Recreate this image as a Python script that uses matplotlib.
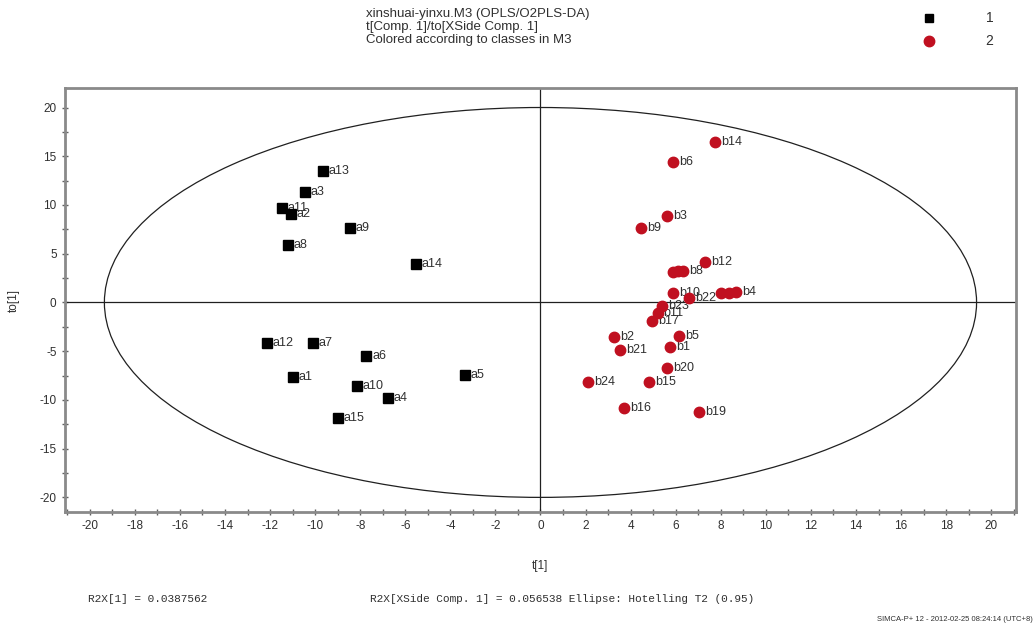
import numpy as np
import matplotlib.pyplot as plt
from matplotlib.patches import Ellipse
from matplotlib.ticker import MultipleLocator

plt.rcParams['font.family'] = ['Liberation Sans', 'DejaVu Sans']
plt.rcParams['axes.unicode_minus'] = False

# class 1 (black squares)
a_names = ['a13', 'a3', 'a11', 'a2', 'a9', 'a8', 'a14', 'a12', 'a7', 'a6',
           'a1', 'a10', 'a4', 'a15', 'a5']
a_t = [-9.67, -10.47, -11.49, -11.09, -8.47, -11.22, -5.54, -12.15, -10.11, -7.72,
       -11.0, -8.16, -6.78, -9.0, -3.37]
a_to = [13.5, 11.3, 9.74, 9.03, 7.59, 5.85, 3.9, -4.2, -4.2, -5.54,
        -7.69, -8.6, -9.85, -11.9, -7.49]

# class 2 (red circles); labels hidden under neighbouring markers are left blank
b_names = ['b14', 'b6', 'b3', 'b9', 'b12', '', '', 'b8', 'b10', 'b22',
           '', '', 'b4', 'b23', 'b11', 'b17', 'b2', 'b5', 'b21', 'b1',
           'b20', 'b24', 'b15', 'b16', 'b19']
b_t = [7.76, 5.9, 5.63, 4.48, 7.32, 5.9, 6.12, 6.34, 5.9, 6.6,
       8.03, 8.38, 8.69, 5.41, 5.2, 4.95, 3.28, 6.16, 3.55, 5.76,
       5.63, 2.13, 4.83, 3.72, 7.05]
b_to = [16.5, 14.46, 8.92, 7.59, 4.2, 3.15, 3.2, 3.25, 0.92, 0.5,
        1.0, 1.0, 1.05, -0.35, -1.1, -1.95, -3.59, -3.49, -4.92, -4.62,
        -6.77, -8.2, -8.2, -10.87, -11.28]

red = '#c01020'
txtc = '#303030'

fig = plt.figure(figsize=(10.36, 6.3), dpi=100)
ax = fig.add_axes([0.0627, 0.1873, 0.918, 0.673])

# Hotelling T2 ellipse and zero lines
ax.add_patch(Ellipse((0, 0), 2 * 19.35, 2 * 20.0, fill=False, ec='#202020', lw=0.9))
ax.axhline(0, color='#202020', lw=0.9)
ax.axvline(0, color='#202020', lw=0.9)

ax.plot(a_t, a_to, 's', color='black', ms=6.5, ls='none', zorder=4)
ax.plot(b_t, b_to, 'o', color=red, ms=7.5, ls='none', zorder=4)
for n, x, y in zip(a_names, a_t, a_to):
    ax.text(x + 0.25, y, n, fontsize=9, color=txtc, va='center', ha='left', zorder=3)
for n, x, y in zip(b_names, b_t, b_to):
    if n:
        ax.text(x + 0.25, y, n, fontsize=9, color=txtc, va='center', ha='left', zorder=3)

ax.set_xlim(-21.1, 21.1)
ax.set_ylim(-21.5, 22.0)
ax.xaxis.set_major_locator(MultipleLocator(2))
ax.xaxis.set_minor_locator(MultipleLocator(1))
ax.yaxis.set_major_locator(MultipleLocator(5))
ax.yaxis.set_minor_locator(MultipleLocator(2.5))
ax.tick_params(which='both', direction='inout', length=5, width=1, color='#606060',
               labelsize=8.5, labelcolor=txtc)
ax.tick_params(top=False, right=False)
for s in ax.spines.values():
    s.set_color('#8a8a8a')
    s.set_linewidth(2)

ax.set_xlabel('t[1]', fontsize=8.5, color=txtc, labelpad=20)
ax.set_ylabel('to[1]', fontsize=8.5, color=txtc, labelpad=14)

# header
fig.text(0.353, 0.988, 'xinshuai-yinxu.M3 (OPLS/O2PLS-DA)\n'
         't[Comp. 1]/to[XSide Comp. 1]\nColored according to classes in M3',
         fontsize=9.5, color=txtc, va='top', ha='left', linespacing=1.15)

# legend
fig.lines.append(plt.Line2D([0.897], [0.971], marker='s', color='black', ms=6,
                            transform=fig.transFigure))
fig.lines.append(plt.Line2D([0.897], [0.935], marker='o', color=red, ms=7.5,
                            transform=fig.transFigure))
fig.text(0.955, 0.971, '1', fontsize=10, color=txtc, va='center', ha='center')
fig.text(0.955, 0.935, '2', fontsize=10, color=txtc, va='center', ha='center')

# footer
fig.text(0.085, 0.049, 'R2X[1] = 0.0387562', family='Liberation Mono', fontsize=8,
         color=txtc, va='center')
fig.text(0.357, 0.049, 'R2X[XSide Comp. 1] = 0.056538 Ellipse: Hotelling T2 (0.95)',
         family='Liberation Mono', fontsize=8, color=txtc, va='center')
fig.text(0.997, 0.016, 'SIMCA-P+ 12 - 2012-02-25 08:24:14 (UTC+8)', fontsize=5.5,
         color=txtc, va='center', ha='right', fontstretch='condensed')

fig.savefig('out.png', dpi=100)
